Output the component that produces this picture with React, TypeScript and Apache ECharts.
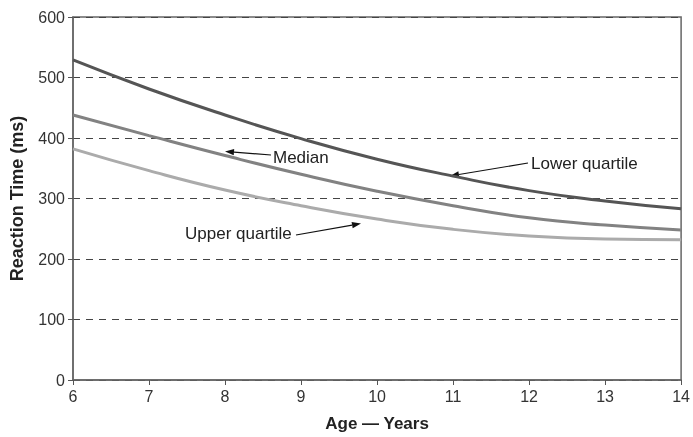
import React, { useEffect, useRef } from "react";
import * as echarts from "echarts";

const ages = [6, 7, 8, 9, 10, 11, 12, 13, 14];
const lowerQuartile = [529, 481, 438, 399, 365, 337, 313, 296, 283];
const median = [438, 404, 371, 340, 312, 288, 268, 256, 248];
const upperQuartile = [382, 346, 314, 288, 266, 249, 238, 233, 232];
const yTicks = [0, 100, 200, 300, 400, 500, 600];

const FONT = "'Liberation Sans', Arial, Helvetica, sans-serif";

function arrow(x1: number, y1: number, x2: number, y2: number) {
  const dx = x2 - x1;
  const dy = y2 - y1;
  const len = Math.sqrt(dx * dx + dy * dy);
  const ux = dx / len;
  const uy = dy / len;
  const hl = 9;
  const hw = 3.2;
  const bx = x2 - ux * hl;
  const by = y2 - uy * hl;
  return [
    {
      type: "line",
      shape: { x1, y1, x2: bx, y2: by },
      style: { stroke: "#111", lineWidth: 1.2 },
      silent: true,
    },
    {
      type: "polygon",
      shape: {
        points: [
          [x2, y2],
          [bx - uy * hw, by + ux * hw],
          [bx + uy * hw, by - ux * hw],
        ],
      },
      style: { fill: "#111" },
      silent: true,
    },
  ];
}

function label(text: string, x: number, y: number) {
  return {
    type: "text",
    x,
    y,
    style: {
      text,
      fontSize: 17,
      fontFamily: FONT,
      fill: "#222",
      textVerticalAlign: "middle",
      textAlign: "left",
    },
    silent: true,
  };
}

export default function App() {
  const ref = useRef<HTMLDivElement>(null);
  useEffect(() => {
    if (!ref.current) return;
    const chart = echarts.init(ref.current, undefined, { renderer: "svg" });
    const mk = (vals: number[]) => ages.map((a, i) => [a, vals[i]]);
    chart.setOption({
      animation: false,
      grid: {
        left: 73,
        right: 5,
        top: 17,
        bottom: 49,
        show: true,
        borderColor: "#666",
        borderWidth: 1.5,
      },
      xAxis: {
        type: "value",
        min: 6,
        max: 14,
        interval: 1,
        name: "Age \u2014 Years",
        nameLocation: "middle",
        nameGap: 35,
        nameTextStyle: { fontSize: 17, fontWeight: "bold", fontFamily: FONT, color: "#222" },
        axisLine: { show: true, lineStyle: { color: "#666", width: 1.5 } },
        axisTick: { show: true, length: 5, lineStyle: { color: "#555" } },
        axisLabel: { fontSize: 16, fontFamily: FONT, color: "#333", margin: 8 },
        splitLine: { show: false },
      },
      yAxis: {
        type: "value",
        min: 0,
        max: 600,
        interval: 100,
        name: "Reaction Time (ms)",
        nameLocation: "middle",
        nameGap: 47,
        nameTextStyle: { fontSize: 18, fontWeight: "bold", fontFamily: FONT, color: "#222" },
        axisLine: { show: true, lineStyle: { color: "#666", width: 1.5 } },
        axisTick: { show: true, length: 5, lineStyle: { color: "#555" } },
        axisLabel: {
          fontSize: 16,
          fontFamily: FONT,
          color: "#333",
          margin: 8,
          formatter: (v: number) => (yTicks.includes(v) ? String(v) : ""),
        },
        splitLine: {
          show: true,
          lineStyle: { color: "#444", type: [7, 6], width: 1 },
        },
      },
      series: [
        {
          name: "Lower quartile",
          type: "line",
          smooth: true,
          symbol: "none",
          data: mk(lowerQuartile),
          lineStyle: { color: "#555555", width: 3 },
        },
        {
          name: "Median",
          type: "line",
          smooth: true,
          symbol: "none",
          data: mk(median),
          lineStyle: { color: "#828282", width: 3 },
        },
        {
          name: "Upper quartile",
          type: "line",
          smooth: true,
          symbol: "none",
          data: mk(upperQuartile),
          lineStyle: { color: "#ababab", width: 3 },
        },
      ],
      graphic: [
        label("Median", 273, 157),
        ...arrow(271, 155, 225, 151.5),
        label("Lower quartile", 531, 163),
        ...arrow(528, 163, 450, 176),
        label("Upper quartile", 185, 233),
        ...arrow(296, 235, 361, 223.5),
      ],
    });
    return () => chart.dispose();
  }, []);
  return (
    <div
      ref={ref}
      style={{ position: "fixed", left: 0, top: 0, width: 693, height: 437 }}
    />
  );
}
